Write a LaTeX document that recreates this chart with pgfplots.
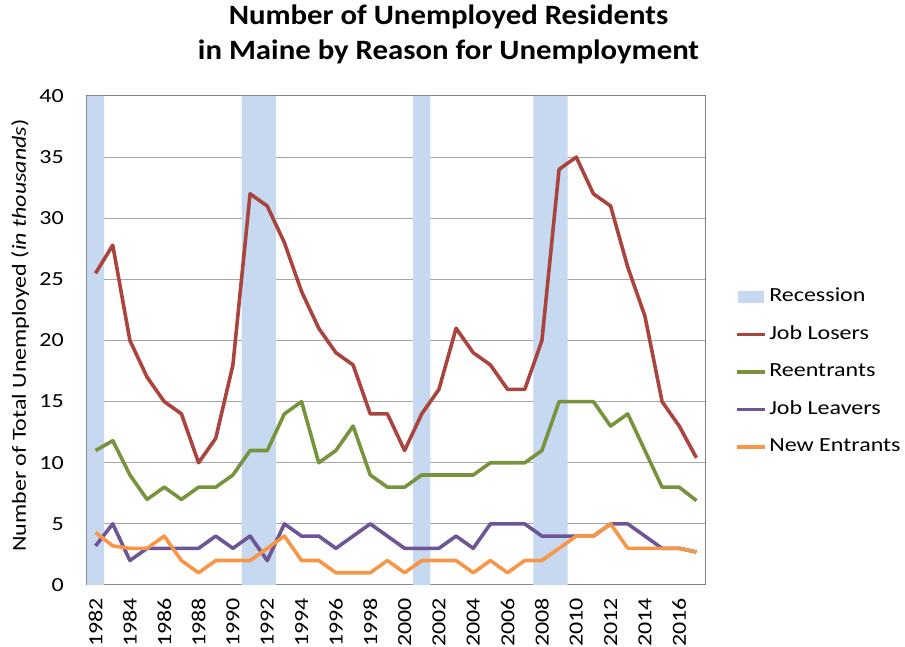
\documentclass[border=0pt]{standalone}
\usepackage{fontspec}
\setmainfont{Carlito}
\newfontfamily\smallf{Carlito}[FakeStretch=1.2]
\newfontfamily\titlef{Carlito}[FakeStretch=1.1]
\usepackage{pgfplots}
\usepackage{pgfplotstable}
\pgfplotsset{compat=1.18}

\definecolor{recess}{HTML}{C6D9F1}
\definecolor{losers}{HTML}{A9443F}
\definecolor{reent}{HTML}{77933C}
\definecolor{leavers}{HTML}{6E5596}
\definecolor{newent}{HTML}{F79646}

% year, job losers, reentrants, job leavers, new entrants (thousands)
\pgfplotstableread{
year  losers reent leavers newent
1982  25.5   11    3.2     4.3
1983  27.8   11.8  5       3.2
1984  20     9     2       3
1985  17     7     3       3
1986  15     8     3       4
1987  14     7     3       2
1988  10     8     3       1
1989  12     8     4       2
1990  18     9     3       2
1991  32     11    4       2
1992  31     11    2       3
1993  28     14    5       4
1994  24     15    4       2
1995  21     10    4       2
1996  19     11    3       1
1997  18     13    4       1
1998  14     9     5       1
1999  14     8     4       2
2000  11     8     3       1
2001  14     9     3       2
2002  16     9     3       2
2003  21     9     4       2
2004  19     9     3       1
2005  18     10    5       2
2006  16     10    5       1
2007  16     10    5       2
2008  20     11    4       2
2009  34     15    4       3
2010  35     15    4       4
2011  32     15    4       4
2012  31     13    5       5
2013  26     14    5       3
2014  22     11    4       3
2015  15     8     3       3
2016  13     8     3       3
2017  10.4   6.9   2.7     2.7
}\maine

\begin{document}
\begin{tikzpicture}
\begin{axis}[
    scale only axis,
    width=618pt, height=489pt,
    xmin=1981.5, xmax=2017.5,
    ymin=0, ymax=40,
    xtick={1982,1984,...,2016},
    ytick={0,5,...,40},
    major tick length=0pt,
    ymajorgrids,
    grid style={color=black!35, line width=1pt},
    axis line style={color=black!50, line width=1pt},
    /pgf/number format/1000 sep={},
    /pgf/number format/assume math mode=true,
    tick label style={font=\smallf\fontsize{20}{24}\selectfont, inner sep=0pt},
    xticklabel style={rotate=90, anchor=east},
    xticklabel shift=13pt,
    yticklabel shift=23pt,
    ylabel={Number of Total Unemployed (\textit{in thousands})},
    ylabel style={font=\smallf\fontsize{20}{24}\selectfont, at={(axis description cs:-0.108,0.51)}, anchor=center, inner sep=0pt},
    title={Number of Unemployed Residents\\in Maine by Reason for Unemployment},
    title style={font=\titlef\fontsize{28}{35}\selectfont\bfseries, align=center, at={(axis description cs:0.585,1)}, anchor=south, inner sep=0pt, yshift=26pt},
    legend cell align=left,
    legend style={at={(axis description cs:1,0.4356)}, anchor=west, xshift=30pt,
        draw=none, fill=none, inner sep=0pt, row sep=14.5pt,
        font=\smallf\fontsize{20}{24}\selectfont,
        nodes={inner sep=2.5pt, text height=14pt, text depth=4pt}},
    legend image code/.code={\draw[#1] (0pt,0pt) -- (28pt,0pt);},
    every axis plot/.append style={line width=3.6pt, line join=round},
]
\addplot[fill=recess, draw=none,
    legend image code/.code={\fill[recess] (1pt,-6pt) rectangle (27pt,6pt);}]
    coordinates {(1981.5,0) (1981.5,40) (1982.5,40) (1982.5,0)
                 (1990.5,0) (1990.5,40) (1992.5,40) (1992.5,0)
                 (2000.5,0) (2000.5,40) (2001.5,40) (2001.5,0)
                 (2007.5,0) (2007.5,40) (2009.5,40) (2009.5,0)};
\addlegendentry{Recession}
\addplot[losers] table[x=year, y=losers] {\maine};
\addlegendentry{Job Losers}
\addplot[reent] table[x=year, y=reent] {\maine};
\addlegendentry{Reentrants}
\addplot[leavers] table[x=year, y=leavers] {\maine};
\addlegendentry{Job Leavers}
\addplot[newent] table[x=year, y=newent] {\maine};
\addlegendentry{New Entrants}
\end{axis}
\path (current axis.south west) ++(-87pt,-62pt) rectangle ++(905pt,647pt);
\end{tikzpicture}
\end{document}
